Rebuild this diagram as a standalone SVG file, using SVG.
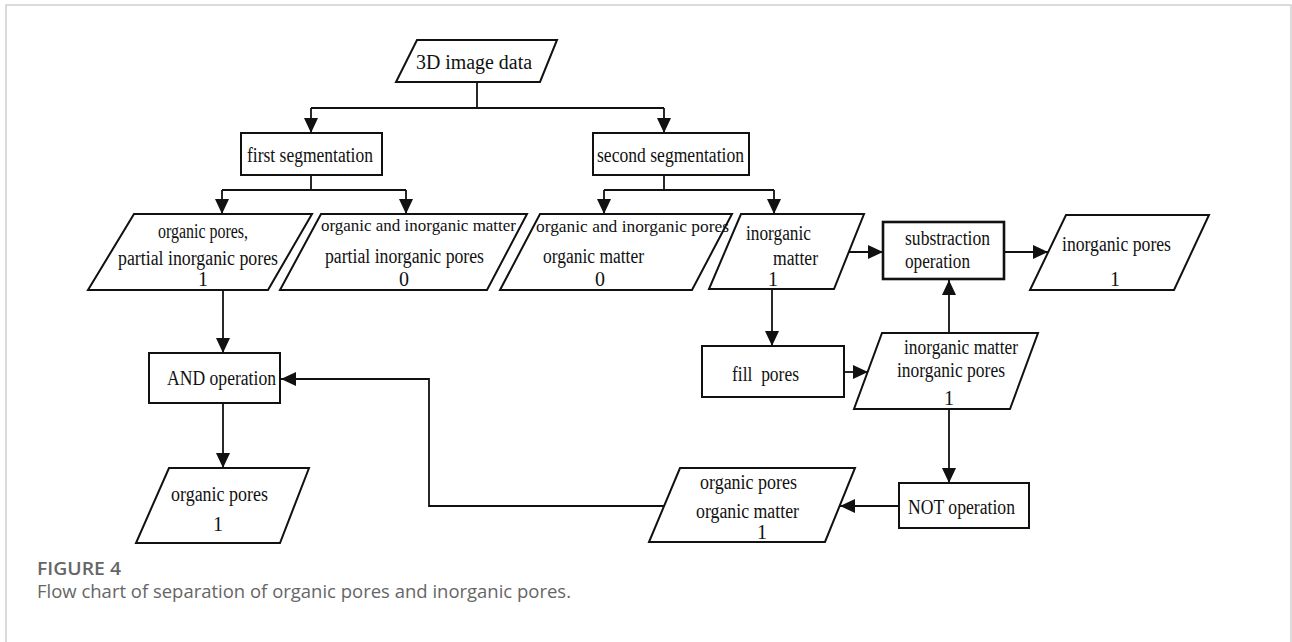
<svg xmlns="http://www.w3.org/2000/svg" width="1292" height="642" viewBox="0 0 1292 642">
<style>
.box{fill:#fff;stroke:#111;stroke-width:2}
.thick{fill:#fff;stroke:#111;stroke-width:2.6}
.t{font-family:"Liberation Serif","Times New Roman",serif;font-size:20px;fill:#111}
.c{text-anchor:middle}
.ln{fill:none;stroke:#111;stroke-width:1.8}
.arr{fill:none;stroke:#111;stroke-width:1.8;marker-end:url(#ah)}
.cap{font-family:"Open Sans","Liberation Sans",sans-serif;fill:#666}
</style>
<defs>
<marker id="ah" markerUnits="userSpaceOnUse" markerWidth="16" markerHeight="16" viewBox="0 0 16 16" refX="15" refY="8" orient="auto">
<path d="M0,1 L15,8 L0,15 Z" fill="#111"/>
</marker>
</defs>
<rect x="6" y="5" width="1285" height="660" fill="none" stroke="#cfcfcf" stroke-width="1.5"/>

<g id="connectors">
<polyline class="ln" points="477,82 477,108"/>
<polyline class="ln" points="311,108 664,108"/>
<line class="arr" x1="311" y1="108" x2="311" y2="133"/>
<line class="arr" x1="664" y1="108" x2="664" y2="133"/>
<polyline class="ln" points="311,175 311,190"/>
<polyline class="ln" points="222,190 406,190"/>
<line class="arr" x1="222" y1="190" x2="222" y2="214"/>
<line class="arr" x1="406" y1="190" x2="406" y2="214"/>
<polyline class="ln" points="664,175 664,190"/>
<polyline class="ln" points="604,190 774,190"/>
<line class="arr" x1="604" y1="190" x2="604" y2="214"/>
<line class="arr" x1="774" y1="190" x2="774" y2="214"/>
<line class="arr" x1="223" y1="290" x2="223" y2="353"/>
<line class="arr" x1="223" y1="403" x2="223" y2="468"/>
<line class="arr" x1="848" y1="252" x2="883" y2="252"/>
<line class="arr" x1="1004" y1="252" x2="1048" y2="252"/>
<line class="arr" x1="772" y1="289" x2="772" y2="346"/>
<line class="arr" x1="844" y1="372" x2="868" y2="372"/>
<line class="arr" x1="949" y1="333" x2="949" y2="280"/>
<line class="arr" x1="949" y1="409" x2="949" y2="483"/>
<line class="arr" x1="899" y1="506" x2="840" y2="506"/>
<polyline class="arr" points="664,506 429,506 429,379 281,379"/>
</g>

<g id="n-3d">
<polygon class="box" points="417,40 557,40 540,82 396,82"/>
<text class="t" x="416" y="69" textLength="116" lengthAdjust="spacingAndGlyphs">3D image data</text>
</g>
<g id="n-first-seg">
<rect class="box" x="241" y="133" width="141" height="42"/>
<text class="t" x="247" y="162" textLength="126" lengthAdjust="spacingAndGlyphs">first segmentation</text>
</g>
<g id="n-second-seg">
<rect class="box" x="593" y="133" width="156" height="42"/>
<text class="t" x="597" y="162" textLength="147" lengthAdjust="spacingAndGlyphs">second segmentation</text>
</g>
<g id="n-p1">
<polygon class="box" points="134,214 312,214 268,290 88,290"/>
<text class="t" x="158" y="238" textLength="90" lengthAdjust="spacingAndGlyphs">organic pores,</text>
<text class="t" x="118" y="265" textLength="160" lengthAdjust="spacingAndGlyphs">partial inorganic pores</text>
<text class="t c" x="203" y="286">1</text>
</g>
<g id="n-p2">
<polygon class="box" points="321,214 527,214 487,290 280,290"/>
<text class="t" x="321" y="231" style="font-size:17.5px" textLength="195" lengthAdjust="spacingAndGlyphs">organic and inorganic matter</text>
<text class="t" x="325" y="263" textLength="159" lengthAdjust="spacingAndGlyphs">partial inorganic pores</text>
<text class="t c" x="404" y="286">0</text>
</g>
<g id="n-p3">
<polygon class="box" points="540,214 732,214 692,290 500,290"/>
<text class="t" x="536" y="232" style="font-size:17.5px" textLength="193" lengthAdjust="spacingAndGlyphs">organic and inorganic pores</text>
<text class="t" x="543" y="263" textLength="101" lengthAdjust="spacingAndGlyphs">organic matter</text>
<text class="t c" x="600" y="286">0</text>
</g>
<g id="n-p4">
<polygon class="box" points="741,214 864,214 834,289 709,289"/>
<text class="t" x="746" y="240" textLength="65" lengthAdjust="spacingAndGlyphs">inorganic</text>
<text class="t" x="773" y="265" textLength="45" lengthAdjust="spacingAndGlyphs">matter</text>
<text class="t c" x="773" y="286">1</text>
</g>
<g id="n-sub">
<rect class="thick" x="883" y="222" width="121" height="57"/>
<text class="t" x="905" y="245" textLength="85" lengthAdjust="spacingAndGlyphs">substraction</text>
<text class="t" x="905" y="268" textLength="65" lengthAdjust="spacingAndGlyphs">operation</text>
</g>
<g id="n-p5">
<polygon class="box" points="1066,215 1209,215 1174,290 1030,290"/>
<text class="t" x="1062" y="251" textLength="109" lengthAdjust="spacingAndGlyphs">inorganic pores</text>
<text class="t c" x="1115" y="286">1</text>
</g>
<g id="n-fill">
<rect class="box" x="702" y="346" width="142" height="51"/>
<text class="t" x="732" y="381" xml:space="preserve" textLength="67" lengthAdjust="spacingAndGlyphs">fill  pores</text>
</g>
<g id="n-p6">
<polygon class="box" points="882,333 1038,333 1010,409 854,409"/>
<text class="t" x="904" y="354" textLength="114" lengthAdjust="spacingAndGlyphs">inorganic matter</text>
<text class="t" x="897" y="377" textLength="108" lengthAdjust="spacingAndGlyphs">inorganic pores</text>
<text class="t c" x="949" y="405">1</text>
</g>
<g id="n-and">
<rect class="box" x="149" y="353" width="131" height="50"/>
<text class="t" x="167" y="385" textLength="109" lengthAdjust="spacingAndGlyphs">AND operation</text>
</g>
<g id="n-not">
<rect class="box" x="899" y="483" width="130" height="45"/>
<text class="t" x="908" y="514" textLength="107" lengthAdjust="spacingAndGlyphs">NOT operation</text>
</g>
<g id="n-p7">
<polygon class="box" points="680,468 855,468 825,542 649,542"/>
<text class="t" x="700" y="489" textLength="97" lengthAdjust="spacingAndGlyphs">organic pores</text>
<text class="t" x="696" y="518" textLength="103" lengthAdjust="spacingAndGlyphs">organic matter</text>
<text class="t c" x="762" y="539">1</text>
</g>
<g id="n-p8">
<polygon class="box" points="169,468 309,468 280,543 136,543"/>
<text class="t" x="171" y="501" textLength="97" lengthAdjust="spacingAndGlyphs">organic pores</text>
<text class="t c" x="218" y="531">1</text>
</g>

<g id="caption">
<text class="cap" x="37" y="575" style="font-size:18px;font-weight:600" textLength="84" lengthAdjust="spacingAndGlyphs">FIGURE 4</text>
<text class="cap" x="37" y="598" style="font-size:18px" textLength="534" lengthAdjust="spacingAndGlyphs">Flow chart of separation of organic pores and inorganic pores.</text>
</g>
</svg>
